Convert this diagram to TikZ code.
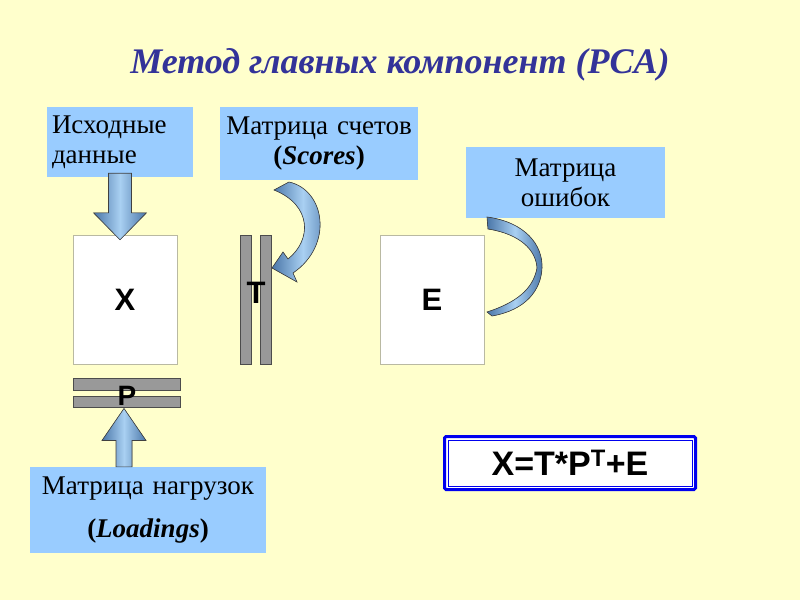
\documentclass[tikz,border=0pt]{standalone}
\usepackage{fontspec}
\setmainfont{Liberation Serif}
\setsansfont{Liberation Sans}
\usetikzlibrary{calc}

\definecolor{bgyellow}{HTML}{FFFFCC}
\definecolor{boxblue}{HTML}{99CCFF}
\definecolor{titleblue}{HTML}{333399}
\definecolor{arrowdark}{HTML}{4A76A8}
\definecolor{arrowlight}{HTML}{A9D0F2}
\definecolor{bargray}{HTML}{999999}
\definecolor{formblue}{HTML}{0000EE}

\tikzset{
  labelbox/.style={fill=boxblue, inner ysep=0pt, inner xsep=5pt, align=center,
    font=\fontsize{27}{30}\selectfont},
  matrixbox/.style={draw=gray!55!bgyellow, fill=white, minimum width=104pt,
    minimum height=129pt, inner sep=0pt, font=\sffamily\bfseries\fontsize{31}{31}\selectfont},
  vbar/.style={draw=black!70, fill=bargray, minimum width=11pt, minimum height=129pt, inner sep=0pt},
  hbar/.style={draw=black!70, fill=bargray, minimum width=107pt, minimum height=11.5pt, inner sep=0pt},
  letter/.style={font=\sffamily\bfseries\fontsize{31}{31}\selectfont, inner sep=0pt},
  blockarrow/.style={draw=black!75, line width=0.6pt, left color=arrowdark,
    right color=arrowdark, middle color=arrowlight},
}

\begin{document}
\begin{tikzpicture}[x=1pt,y=-1pt]
    % Page background
    \fill[bgyellow] (0,0) rectangle (800,600);
    \useasboundingbox (0,0) rectangle (800,600);

    % Title
    \node[text=titleblue, font=\bfseries\itshape\fontsize{36}{36}\selectfont] (title) at (400,65)
      {Метод главных компонент (PCA)};

    % Label boxes
    \node[labelbox, align=left, text width=136pt, minimum height=70pt] (data) at (120,142)
      {Исходные\\данные};
    \node[labelbox, text width=188pt, minimum height=73pt] (scores) at (319,143.5)
      {Матрица счетов\\\textbf{(\textit{Scores})}};
    \node[labelbox, text width=189pt, minimum height=71pt] (errors) at (565.5,182.5)
      {Матрица\\ошибок};
    \node[labelbox, text width=226pt, minimum height=86pt] (loads) at (148,510)
      {Матрица нагрузок\\[13pt]\textbf{(\textit{Loadings})}};

    % Matrices
    \node[matrixbox] (xmat) at (125,299.5) {X};
    \node[matrixbox] (emat) at (432,299.5) {E};
    \node[vbar] (tbar1) at (245.5,299.5) {};
    \node[vbar] (tbar2) at (265.5,299.5) {};
    \node[letter] (tlab) at (256,293) {T};
    \node[hbar] (pbar1) at (126.5,384) {};
    \node[hbar] (pbar2) at (126.5,401.5) {};
    \node[letter, font=\sffamily\bfseries\fontsize{28}{28}\selectfont] (plab) at (127,396) {P};

    % Straight block arrows
    \coordinate (xtip) at ($(data.south |- xmat.north)+(0,5)$);
    \filldraw[blockarrow] (xtip) -- ++(-26.5,-27) -- ++(15,0) -- ($(data.south)+(-11.5,-4)$)
      -- ++(23,0) -- ($(xtip)+(11.5,-27)$) -- ++(15,0) -- cycle;
    \coordinate (ptip) at ($(pbar2.south)+(-2.5,1)$);
    \filldraw[blockarrow] (ptip) -- ++(22,32) -- ++(-14,0) -- ($(ptip |- loads.north)+(8,0)$)
      -- ++(-16,0) -- ($(ptip)+(-8,32)$) -- ++(-14,0) -- cycle;

    % Curved arrows
    \filldraw[blockarrow] (274,190) -- (289,182) .. controls (325,190) and (334,245) .. (293,273)
      -- (297,282) -- (272,268) -- (283,252) -- (288,259)
      .. controls (312,240) and (312,205) .. (274,190) -- cycle;
    \filldraw[blockarrow] (487,217) .. controls (525,222) and (543,245) .. (542,268)
      .. controls (541,290) and (526,310) .. (492,316) -- (487,312)
      .. controls (515,303) and (533,290) .. (537,268)
      .. controls (536,250) and (520,234) .. (488,229) -- cycle;

    % Formula
    \node[draw=formblue, line width=3pt, rounded corners=1.5pt, fill=white, minimum width=251pt,
      minimum height=53pt, font=\sffamily\bfseries\fontsize{34}{34}\selectfont] (formula) at (570,463)
      {X=T*P\textsuperscript{T}+E};
    \draw[formblue, line width=0.8pt] ($(formula.north west)+(5,5)$) rectangle ($(formula.south east)+(-5,-5)$);
\end{tikzpicture}
\end{document}
